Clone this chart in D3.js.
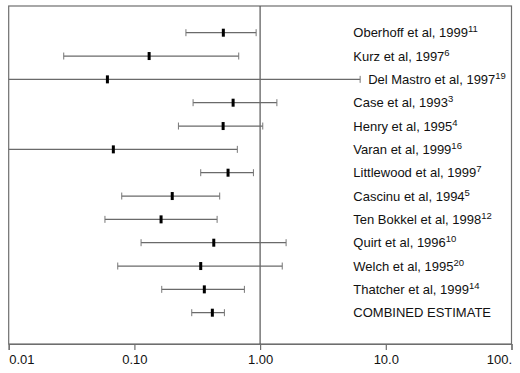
<!DOCTYPE html>
<html>
<head>
<meta charset="utf-8">
<script src="https://cdn.jsdelivr.net/npm/d3@7"></script>
<style>
  html, body { margin: 0; padding: 0; background: #fff; }
  svg { display: block; }
  text { font-family: "Liberation Sans", Arial, Helvetica, sans-serif; }
</style>
</head>
<body>
<svg id="chart" width="520" height="373"></svg>
<script>
const studies = ["Oberhoff et al, 1999", "Kurz et al, 1997", "Del Mastro et al, 1997", "Case et al, 1993",
  "Henry et al, 1995", "Varan et al, 1999", "Littlewood et al, 1999", "Cascinu et al, 1994",
  "Ten Bokkel et al, 1998", "Quirt et al, 1996", "Welch et al, 1995", "Thatcher et al, 1999",
  "COMBINED ESTIMATE"];
const refs = ["11", "6", "19", "3", "4", "16", "7", "5", "12", "10", "20", "14", ""];
const estimate = [0.51, 0.131, 0.061, 0.61, 0.508, 0.068, 0.556, 0.200, 0.163, 0.428, 0.337, 0.360, 0.417];
const lower = [0.257, 0.0274, 0.004, 0.293, 0.224, 0.004, 0.337, 0.0793, 0.0583, 0.113, 0.0737, 0.165, 0.286];
const upper = [0.93, 0.676, 6.25, 1.36, 1.05, 0.659, 0.885, 0.477, 0.455, 1.61, 1.50, 0.75, 0.52];
const tickValues = [0.01, 0.1, 1, 10, 100];
const tickLabels = ["0.01", "0.10", "1.00", "10.0", "100."];

const svg = d3.select("#chart");
const L = 8.7, R = 511.5, T = 6, B = 344;

const x = d3.scaleLog().domain([0.01, 100]).range([L, R]);
const y = d3.scalePoint().domain(studies).range([32.7, 312.7]);

svg.append("defs").append("clipPath").attr("id", "plotclip")
  .append("rect").attr("x", L).attr("y", T).attr("width", R - L).attr("height", B - T);

// frame
svg.append("rect").attr("x", L).attr("y", T).attr("width", R - L).attr("height", B - T)
  .attr("fill", "none").attr("stroke", "#6e6e6e").attr("stroke-width", 1.2);

// reference line at 1
svg.append("line").attr("x1", x(1)).attr("x2", x(1)).attr("y1", T).attr("y2", B)
  .attr("stroke", "#555").attr("stroke-width", 1.2);

// axis
const axis = d3.axisBottom(x).tickValues(tickValues).tickSize(6).tickFormat((d, i) => tickLabels[i]);
const ag = svg.append("g").attr("transform", `translate(0,${B})`).call(axis);
ag.select(".domain").attr("stroke", "#6e6e6e").attr("stroke-width", 1.2);
ag.selectAll(".tick line").attr("stroke", "#6e6e6e").attr("stroke-width", 1.2);
ag.selectAll(".tick text")
  .attr("font-size", 13)
  .attr("fill", "#111")
  .attr("y", 11)
  .attr("text-anchor", (d, i) => i === 0 ? "start" : (i === tickValues.length - 1 ? "end" : "middle"))
  .attr("font-family", '"Liberation Sans", Arial, sans-serif');

const rows = studies.map((s, i) => ({ s, r: refs[i], e: estimate[i], lo: lower[i], hi: upper[i] }));

const plot = svg.append("g").attr("clip-path", "url(#plotclip)");
const g = plot.selectAll("g.row").data(rows).join("g").attr("class", "row");

g.append("line")
  .attr("x1", d => x(d.lo)).attr("x2", d => x(d.hi))
  .attr("y1", d => y(d.s)).attr("y2", d => y(d.s))
  .attr("stroke", "#6a6a6a").attr("stroke-width", 1.2);

// end caps
g.filter(d => d.lo >= 0.01).append("line")
  .attr("x1", d => x(d.lo)).attr("x2", d => x(d.lo))
  .attr("y1", d => y(d.s) - 3.5).attr("y2", d => y(d.s) + 3.5)
  .attr("stroke", "#777").attr("stroke-width", 1);
g.append("line")
  .attr("x1", d => x(d.hi)).attr("x2", d => x(d.hi))
  .attr("y1", d => y(d.s) - 3.5).attr("y2", d => y(d.s) + 3.5)
  .attr("stroke", "#777").attr("stroke-width", 1);

// estimate marks
g.append("rect")
  .attr("x", d => x(d.e) - 1.5).attr("y", d => y(d.s) - 4)
  .attr("width", 3).attr("height", 8)
  .attr("fill", "#000");

// labels
const labels = svg.selectAll("text.lab").data(rows).join("text").attr("class", "lab")
  .attr("x", d => Math.max(353.3, x(d.hi) + 8))
  .attr("y", d => y(d.s) + 4.6)
  .attr("font-size", 13)
  .attr("fill", "#111");
labels.append("tspan").text(d => d.s);
labels.append("tspan").attr("dy", -5).attr("font-size", 9.5).text(d => d.r);
</script>
</body>
</html>
